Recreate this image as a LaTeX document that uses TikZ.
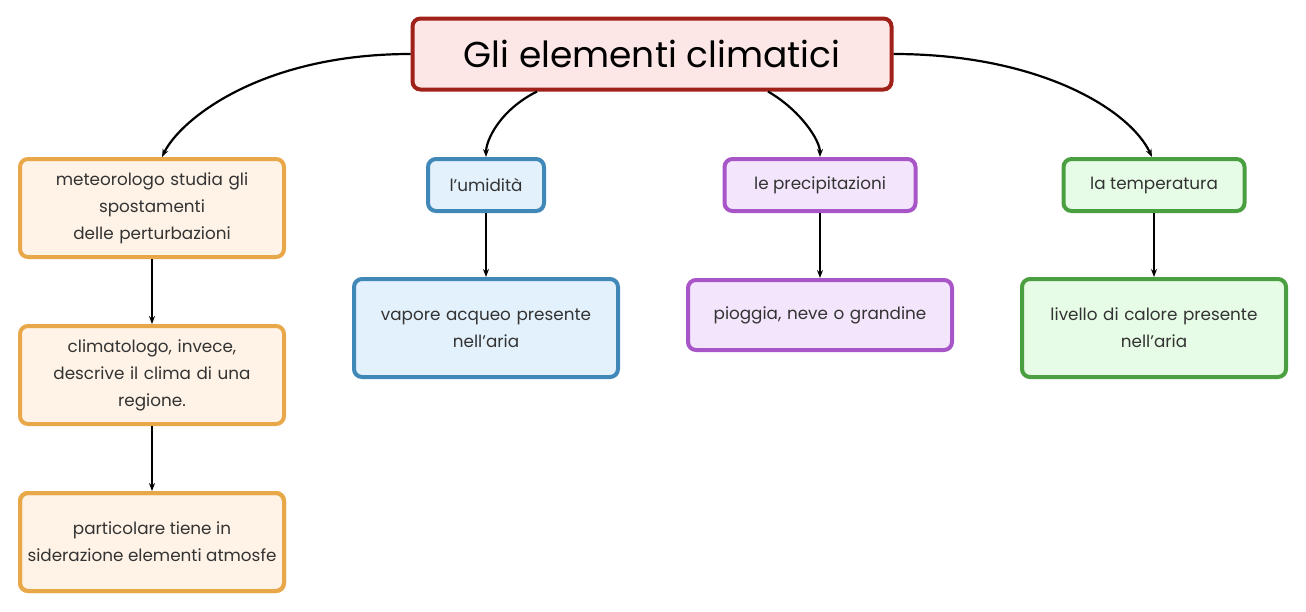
\documentclass[tikz,border=0pt]{standalone}
\usepackage{fontspec}
\setmainfont{Poppins}
\usetikzlibrary{arrows.meta}
\definecolor{rootline}{HTML}{A0201A}\definecolor{rootfill}{HTML}{FDE6E6}
\definecolor{orline}{HTML}{E8A84A}\definecolor{orfill}{HTML}{FEF3E6}
\definecolor{blline}{HTML}{3F88B8}\definecolor{blfill}{HTML}{E3F1FC}
\definecolor{puline}{HTML}{A855C8}\definecolor{pufill}{HTML}{F3E6FC}
\definecolor{grline}{HTML}{4AA040}\definecolor{grfill}{HTML}{E6FCE6}
\definecolor{txt}{HTML}{333333}
\begin{document}
\begin{tikzpicture}[x=1pt, y=-1pt]
    \tikzstyle{box}=[draw, line width=4pt, rounded corners=8pt, align=center, text=txt, font=\fontsize{16.8}{27}\selectfont, inner sep=0pt]
    \tikzstyle{wide}=[box, minimum width=264pt, minimum height=98pt, text width=250pt]
    \tikzstyle{orange}=[draw=orline, fill=orfill]
    \tikzstyle{blue}=[draw=blline, fill=blfill]
    \tikzstyle{purple}=[draw=puline, fill=pufill]
    \tikzstyle{green}=[draw=grline, fill=grfill]
    \tikzstyle{link}=[line width=2.2pt, -{Stealth[length=8pt, width=6pt]}]
    \useasboundingbox (0, 0) rectangle (1306, 611);

    \node[box, draw=rootline, fill=rootfill, minimum width=479pt, minimum height=71pt, font=\fontsize{36}{40}\selectfont, text=black] (root) at (652, 54) {Gli elementi climatici};

    \node[wide, orange] (meteo) at (152, 208) {meteorologo studia gli\\spostamenti\\delle perturbazioni};
    \node[wide, orange] (clima) at (152, 375) {climatologo, invece,\\descrive il clima di una\\regione.};
    \node[wide, orange] (partic) at (152, 542) {};
    \begin{scope}
      \clip (20, 493) rectangle (284, 591);
      \node[align=center, text=txt, font=\fontsize{16.8}{27}\selectfont] (partictext) at (partic) {particolare tiene in\\siderazione elementi atmosfe};
    \end{scope}
    \draw[orline, line width=4pt, rounded corners=8pt] (20, 493) rectangle (284, 591);

    \node[box, blue, minimum width=116pt, minimum height=52pt] (umid) at (486, 185) {l’umidità};
    \node[wide, blue] (vapore) at (486, 328) {vapore acqueo presente\\nell’aria};

    \node[box, purple, minimum width=191pt, minimum height=52pt] (prec) at (820, 185) {le precipitazioni};
    \node[wide, purple, minimum height=70pt] (pioggia) at (820, 315) {pioggia, neve o grandine};

    \node[box, green, minimum width=181pt, minimum height=52pt] (temp) at (1154, 185) {la temperatura};
    \node[wide, green] (livello) at (1154, 328) {livello di calore presente\\nell’aria};

    \draw[link] (root.west) .. controls (260, 54) and (180, 120) .. ([xshift=10pt]meteo.north);
    \draw[link] ([xshift=-115pt]root.south) .. controls (500, 110) and (486, 140) .. (umid.north);
    \draw[link] ([xshift=116pt]root.south) .. controls (800, 110) and (820, 140) .. (prec.north);
    \draw[link] (root.east) .. controls (1040, 54) and (1130, 110) .. ([xshift=-2pt]temp.north);

    \draw[link] (meteo) -- (clima);
    \draw[link] (clima) -- (partic);
    \draw[link] (umid) -- (vapore);
    \draw[link] (prec) -- (pioggia);
    \draw[link] (temp) -- (livello);
  \end{tikzpicture}
\end{document}
